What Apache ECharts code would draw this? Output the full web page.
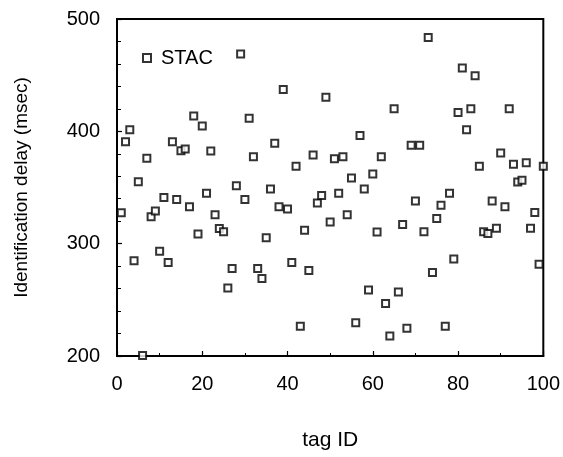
<!DOCTYPE html>
<html>
<head>
<meta charset="utf-8">
<script src="https://cdn.jsdelivr.net/npm/echarts@6/dist/echarts.min.js"></script>
<style>
html,body{margin:0;padding:0;background:#fff;}
#chart{width:563px;height:457px;}
</style>
</head>
<body>
<div id="chart"></div>
<script>
const seriesName = 'STAC';
const tagIds = [1,2,3,4,5,6,7,8,9,10,11,12,13,14,15,16,17,18,19,20,
  21,22,23,24,25,26,27,28,29,30,31,32,33,34,35,36,37,38,39,40,
  41,42,43,44,45,46,47,48,49,50,51,52,53,54,55,56,57,58,59,60,
  61,62,63,64,65,66,67,68,69,70,71,72,73,74,75,76,77,78,79,80,
  81,82,83,84,85,86,87,88,89,90,91,92,93,94,95,96,97,98,99,100];
const delays = [327.5,390.8,401.3,284.7,355.1,200.5,376,324,329,293.3,
  341.2,283.2,390.8,339.4,382.8,384.3,332.8,413.7,308.5,404.8,
  344.8,382.5,325.7,313.6,310.5,260.6,277.9,351.6,468.8,339.4,
  411.7,377.4,277.9,269,305.2,348.6,389.4,332.8,437.2,330.8,
  283.2,368.9,226.4,312,276.1,378.9,336.1,342.9,430.4,319.2,
  375.7,344.8,377.4,325.7,358.4,229.7,396.2,348.6,258.8,362,
  310.3,377.4,246.7,217.8,420,257,317.1,224.6,387.6,337.9,
  387.6,310.5,483.6,274.4,322.5,334.3,226.4,344.8,286.4,416.7,
  456.3,401.3,420,449.4,368.9,310.5,309.1,337.9,313.8,380.7,
  332.8,420,370.6,354.9,356.4,372,313.8,327.8,281.6,368.9];
const xTicks = [0,20,40,60,80,100];
const yTicks = [200,300,400,500];

const font = '"Liberation Sans", Arial, sans-serif';
const chart = echarts.init(document.getElementById('chart'), null, {renderer:'canvas'});
const points = tagIds.map((t,i)=>[t, delays[i]]);

chart.setOption({
  animation:false,
  backgroundColor:'#fff',
  grid:{left:117, right:17, top:19, bottom:101, show:true, borderColor:'#000', borderWidth:2, backgroundColor:'transparent'},
  legend:{
    show:true, left:137, top:43, itemWidth:8, itemHeight:8, itemGap:10,
    data:[{name:seriesName, icon:'rect'}],
    textStyle:{fontFamily:font, fontSize:20, color:'#000', padding:[0,0,0,5]}
  },
  xAxis:{
    type:'value', min:xTicks[0], max:xTicks[xTicks.length-1], interval:20,
    name:'tag ID', nameLocation:'middle', nameGap:74,
    nameTextStyle:{fontFamily:font, fontSize:21, color:'#000'},
    axisLine:{show:true, lineStyle:{color:'#000', width:2}},
    axisTick:{show:true, inside:true, length:5, lineStyle:{color:'#000', width:1.2}},
    minorTick:{show:true, splitNumber:2, length:3, lineStyle:{color:'#000', width:1}},
    axisLabel:{fontFamily:font, fontSize:20, color:'#000', margin:18},
    splitLine:{show:false}
  },
  yAxis:{
    type:'value', min:yTicks[0], max:yTicks[yTicks.length-1], interval:100,
    name:'Identification delay (msec)', nameLocation:'middle', nameGap:86,
    nameTextStyle:{fontFamily:font, fontSize:19, color:'#000'},
    axisLine:{show:true, lineStyle:{color:'#000', width:2}},
    axisTick:{show:true, inside:true, length:5, lineStyle:{color:'#000', width:1.2}},
    minorTick:{show:true, splitNumber:5, length:4, lineStyle:{color:'#000', width:1}},
    axisLabel:{fontFamily:font, fontSize:20, color:'#000', margin:17},
    splitLine:{show:false}
  },
  series:[{
    name:seriesName, type:'scatter', symbol:'rect', symbolSize:7,
    itemStyle:{color:'#fff', borderColor:'#000', borderWidth:2},
    data:points
  }]
});
</script>
</body>
</html>
